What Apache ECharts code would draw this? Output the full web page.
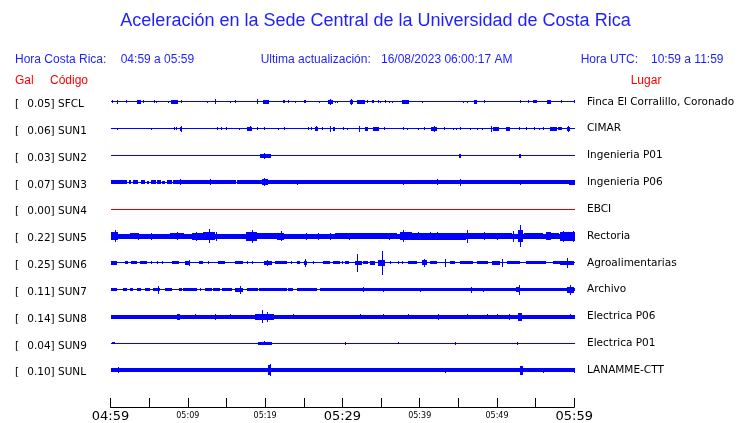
<!DOCTYPE html>
<html><head><meta charset="utf-8">
<script src="https://cdn.jsdelivr.net/npm/echarts@6/dist/echarts.min.js"></script>
<style>html,body{margin:0;padding:0;background:#fff}#c{width:740px;height:423px}</style>
</head><body><div id="c"></div>
<script>
// ---- data ----
const codes = ['SFCL','SUN1','SUN2','SUN3','SUN4','SUN5','SUN6','SUN7','SUN8','SUN9','SUNL'];
const peakGal = ['0.05','0.06','0.03','0.07','0.00','0.22','0.25','0.11','0.14','0.04','0.10'];
const places = ['Finca El Corralillo, Coronado','CIMAR','Ingenieria P01','Ingenieria P06','EBCI','Rectoria','Agroalimentarias','Archivo','Electrica P06','Electrica P01','LANAMME-CTT'];
const tickLabels = ['04:59','','05:09','','05:19','','05:29','','05:39','','05:49','','05:59'];
const bigTicks = ['04:59','05:29','05:59'];
// envelope segments per station: [start minute, end minute, half amplitude (1/27 of trace spacing)]
const sfcl = [[0,60,0.5],[0.2,0.3,1.5],[0.8,1.0,2],[2.0,2.0,1.5],[3.4,4.0,2],[4.2,4.2,1.5],[5.6,5.6,1.5],[5.9,5.9,1],[7.4,7.5,1],[7.8,8.7,2],[9.1,9.1,1.5],[12.5,12.5,1],[13.5,13.5,2.5],[15.5,15.5,1],[16.1,16.1,1.5],[19.0,19.0,2.5],[19.7,20.5,2],[22.3,22.6,1.5],[23.0,23.0,1.5],[23.9,23.9,1],[25.0,25.3,1.5],[27.0,27.0,1],[28.1,28.8,2],[28.4,28.4,3],[29.0,29.0,1],[29.3,29.3,1],[31.0,31.4,2],[31.1,31.1,3],[31.9,32.9,2],[33.2,33.2,1.5],[33.8,34.1,1.5],[34.6,34.6,1.5],[34.9,34.9,1],[35.5,35.5,1.5],[36.0,36.0,1],[36.4,36.4,1],[37.7,38.6,2],[40.3,40.3,1],[45.6,45.6,1],[46.1,46.1,1],[47.0,47.4,2],[48.3,48.3,1.5],[53.0,53.0,1.5],[54.0,54.0,1.5],[54.7,55.2,1.5],[56.5,57.0,2],[58.3,58.3,1.5],[59.9,60,1.5]];
const sun1 = [[0,60,0.5],[0.8,0.8,1],[5.3,5.3,1],[8.2,8.2,1.5],[8.5,8.5,1.5],[9.0,9.3,2],[9.1,9.1,3],[13.8,13.8,1.5],[14.3,14.3,1.5],[14.9,14.9,1.5],[16.65,16.65,1],[17.7,18.3,2],[18.0,18.0,2.5],[19.0,19.0,1.5],[19.9,19.9,1.5],[21.7,21.7,1],[22.5,22.5,1.5],[25.6,25.6,1.5],[26.0,26.0,1.5],[26.5,26.8,2],[26.6,26.6,2.5],[27.3,27.3,1.5],[28.4,28.4,3],[28.8,29.0,2],[30.1,30.1,1.5],[30.6,30.6,1],[32.1,32.3,2],[32.2,32.2,3],[32.9,33.3,2],[34.0,34.7,2],[35.4,35.4,1.5],[37.9,37.9,1.5],[38.3,38.3,1],[39.8,39.8,1],[40.5,40.5,1.5],[41.4,42.2,2],[41.8,41.8,3],[43.1,43.1,1.5],[44.3,44.3,1],[44.7,44.7,1],[45.2,45.2,1.5],[46.5,46.5,1],[47.4,47.4,1],[48.1,48.1,1],[49.2,49.2,3],[49.5,50.2,2],[51.2,51.7,2],[52.8,53.0,1.5],[53.8,53.8,1.5],[54.8,54.8,1.5],[55.4,55.4,1],[56.0,56.0,1.5],[56.9,57.7,2],[57.9,58.4,1.5],[59.0,59.4,2],[59.2,59.2,3]];
const sun2 = [[0,60,0.5],[19.4,20.7,2],[19.9,19.9,3],[45.1,45.3,2],[52.9,53.1,2]];
const sun3 = [[0,60,0.5],[0,2.1,2],[2.4,2.7,2],[2.95,3.6,2],[4.0,4.4,2],[4.7,5.0,1.5],[5.3,5.85,2],[6.05,6.5,2],[6.7,7.05,1.5],[7.3,7.9,2],[8.1,16.2,2],[9.0,9.0,3],[12.9,12.9,3],[16.4,60,2],[19.6,20.4,3],[19.9,19.9,4],[24.1,24.1,2.5],[37.9,37.9,2.5],[42.2,42.2,3],[45.2,45.2,3.5],[53.0,53.0,2.5],[59.3,60,2.5]];
const sun4 = [[0,60,0.5]];
const sun5 = [[0,60,2.5],[0,1,4],[0.6,0.6,6],[2.5,3.5,3],[3.6,3.6,3.5],[5.2,5.2,3.5],[6.7,7.7,1.5],[7.7,9.5,3],[8.6,8.6,4],[10.5,12,3.5],[11.0,11.0,4.5],[12,13.5,4],[12.7,12.7,7],[13.7,13.7,4.5],[17.5,19,4.5],[18.3,18.3,6.5],[19,21.5,3],[21.5,22.5,3.5],[22.1,22.1,5],[25.3,25.3,3.5],[26.8,26.8,3.5],[28.4,28.4,3.5],[29,37,3],[30.9,30.9,3.5],[36.0,36.0,3.5],[37.5,39,4],[37.9,37.9,6],[39,46,3.5],[39.8,39.8,4],[41.3,41.3,4],[42.2,42.2,4],[46.1,46.1,6.5],[46,52,3],[48.3,48.3,4],[50.0,50.0,3.5],[52.1,52.1,5.5],[52.7,53.3,6],[53.0,53.0,11],[53.5,56,3],[56.3,57,4],[57,58,3],[58.2,60,4.5],[58.5,58.5,5.5],[59.8,59.8,5.5]];
const sun6 = [[0,60,0.5],[0,0.8,2],[1.9,2.3,1.5],[2.7,3.4,1.5],[3.8,4.7,1.5],[5.3,5.3,1.5],[6.0,6.0,1.5],[6.6,6.6,1.5],[7.9,8.8,1.5],[9.6,10.3,2],[10.1,10.1,3],[11.4,12.0,1.5],[12.65,12.65,1.5],[13.9,14.8,1.5],[16.1,17.2,1.5],[17.6,17.6,1.5],[18.3,18.3,1.5],[19.8,20.9,2],[20.2,20.2,3],[21.3,22.8,1.5],[23.4,23.4,1.5],[24.1,24.5,1.5],[25.0,25.4,2],[25.2,25.2,4],[26.2,26.2,1.5],[27.5,28.4,1.5],[28.8,29.7,1.5],[29.9,29.9,1.5],[30.3,30.8,1.5],[31.6,32.5,2],[31.95,31.95,9],[32.7,33.35,1.5],[33.6,34.2,2],[34.6,35.5,3],[35.1,35.1,12],[36.2,36.2,1.5],[37.2,37.2,1.5],[37.7,37.7,1.5],[38.5,39.6,1.5],[40.3,40.9,2.5],[40.6,40.6,4],[41.3,42.2,1.5],[43.3,43.3,4],[43.9,44.6,1.5],[45.2,46.9,1.5],[47.4,48.9,1.5],[49.3,50.4,2],[50.6,50.6,4],[51.3,53.0,1.5],[53.8,56.4,1.5],[57.3,58.2,1.5],[58.2,59.9,2],[59.0,59.0,5]];
const sun7 = [[0,60,0.5],[0,0.8,1.5],[1.66,2.1,1.5],[2.5,2.95,1.5],[3.4,4.0,1.5],[4.5,5.1,1.5],[5.5,6.4,1.5],[6.2,6.2,4],[7.05,7.9,1.5],[8.8,9.2,1.5],[9.4,11.15,1.5],[11.6,11.6,1.5],[12.2,13.1,1.5],[13.3,14.2,1.5],[14.4,15.7,1.5],[16.1,17.2,2],[16.75,16.75,4],[17.6,19.1,1.5],[19.25,22.8,1.5],[23.0,23.65,1.5],[24.1,26.7,1.5],[27.1,28.8,1.5],[28.8,60,1.5],[32.7,32.7,2.5],[35.3,35.3,2],[40.0,40.0,2],[46.7,46.7,3],[48.2,48.2,2],[52.5,53.0,2.5],[52.8,52.8,5],[59.0,59.9,3],[59.4,59.4,5]];
const sun8 = [[0,60,2],[8.6,9.0,3],[10.9,10.9,2.5],[13.5,13.5,3],[15.5,15.5,2.5],[18.7,21.1,3],[19.55,19.55,6.5],[20.2,20.2,5],[23.6,23.6,2.5],[32.3,32.3,2.5],[35.3,35.3,2.5],[38.5,38.5,2.5],[42.4,42.4,3],[46.1,46.1,2.5],[48.7,48.7,2.5],[50.0,50.0,2.5],[51.5,51.5,3],[52.75,53.2,4],[59.4,59.4,2.5]];
const sun9 = [[0,60,0.5],[0.2,0.6,1],[19.1,20.9,1.5],[19.8,19.8,2],[30.3,30.3,1.5],[37.2,37.2,1],[44.6,44.6,1.5],[52.6,52.6,1.5]];
const sunl = [[0,60,2],[1.0,1.0,3],[20.4,20.8,5],[20.6,20.6,6],[43.3,43.3,2.5],[53.0,53.3,4.5],[56.0,56.0,2.5],[59.9,60,2.5]];
const traces = [sfcl,sun1,sun2,sun3,sun4,sun5,sun6,sun7,sun8,sun9,sunl];
const AMP_PER_ROW = 27;

// ---- chart ----
const chart = echarts.init(document.getElementById('c'), null, {renderer:'canvas'});
const BLUE = '#0000ff', RED = '#e00000', HDR = '#1e1eff', HRED = '#ff0000';
function makeRender(color){
  return function(params, api){
    const t0 = api.value(0), t1 = api.value(1), a = api.value(2), row = api.value(3);
    const p0 = api.coord([t0,row]), p1 = api.coord([t1,row]);
    const h = Math.abs(api.size([0, a/AMP_PER_ROW])[1]);
    const x = Math.round(p0[0]);
    const w = Math.max(1, Math.round(p1[0]) - x + (t1 >= 60 ? 1 : 0));
    const y = Math.round(p0[1] - h);
    const hh = Math.max(1, Math.round(2*h));
    return {type:'rect', shape:{x:x,y:y,width:w,height:hh}, style:{fill:color}};
  };
}
const series = traces.map((tr,i)=>({
  type:'custom', coordinateSystem:'cartesian2d', xAxisIndex:0, yAxisIndex:0,
  renderItem: makeRender(codes[i]==='SUN4'?RED:BLUE),
  encode:{x:[0,1], y:3},
  data: tr.map(s=>[s[0],s[1],s[2],i]),
  silent:true, animation:false, clip:false
}));
const font = "'DejaVu Sans', sans-serif";
const hfont = "'Liberation Sans', Arial, sans-serif";
function txt(x,y,text,color,size,align,ff){
  return {type:'text', x:x, y:y, style:{text:text, fill:color, font:(size||12)+'px '+(ff||hfont), textAlign:align||'left', textVerticalAlign:'middle'}, silent:true};
}
const yBase = {type:'value', inverse:true, min:-1, max:10+37/27, interval:1,
  axisLine:{show:false}, axisTick:{show:false}, splitLine:{show:false}};
chart.setOption({
  animation:false,
  grid:{left:110.5, top:75, width:463.8, height:334, containLabel:false},
  xAxis:{type:'value', position:'bottom', min:0, max:60, interval:5,
    axisLine:{onZero:false, lineStyle:{color:'#000', width:1}},
    axisTick:{inside:true, length:9, lineStyle:{color:'#000'}},
    splitLine:{show:false},
    axisLabel:{margin:3, color:'#000', fontFamily:font,
      formatter:function(v){ const l = tickLabels[Math.round(v/5)] || ''; if(!l) return ''; return bigTicks.indexOf(l)>=0 ? '{b|'+l+'}' : '{s|'+l+'}'; },
      rich:{b:{fontSize:13, fontFamily:font, color:'#000'}, s:{fontSize:8, fontFamily:font, color:'#000', padding:[2,0,0,0]}}}},
  yAxis:[
    Object.assign({}, yBase, {position:'left', axisLabel:{align:'left', margin:95.5, color:'#000', fontSize:10.5, fontFamily:font, padding:[5,0,0,0],
      formatter:function(v){ const i=Math.round(v); if(i<0||i>10||Math.abs(v-i)>1e-6) return ''; return '{a|[}'+peakGal[i]+'] '+codes[i]; },
      rich:{a:{width:12.2, fontSize:10.5, fontFamily:font, color:'#000'}}}}),
    Object.assign({}, yBase, {position:'right', axisLabel:{align:'left', margin:12.7, color:'#000', fontSize:10.5, fontFamily:font, padding:[5,0,0,0],
      formatter:function(v){ const i=Math.round(v); if(i<0||i>10||Math.abs(v-i)>1e-6) return ''; return places[i]; }}})
  ],
  graphic:[
    txt(375.5,21.5,'Aceleración en la Sede Central de la Universidad de Costa Rica',HDR,18,'center'),
    txt(15,60,'Hora Costa Rica:',HDR,12), txt(120.7,60,'04:59 a 05:59',HDR,12),
    txt(260.7,60,'Ultima actualización:',HDR,12), txt(381,60,'16/08/2023 06:00:17 AM',HDR,12),
    txt(580.7,60,'Hora UTC:',HDR,12), txt(651,60,'10:59 a 11:59',HDR,12),
    txt(15,80.5,'Gal',HRED,12), txt(50,80.5,'Código',HRED,12), txt(630.7,80.5,'Lugar',HRED,12)
  ],
  series: series
});
</script></body></html>
